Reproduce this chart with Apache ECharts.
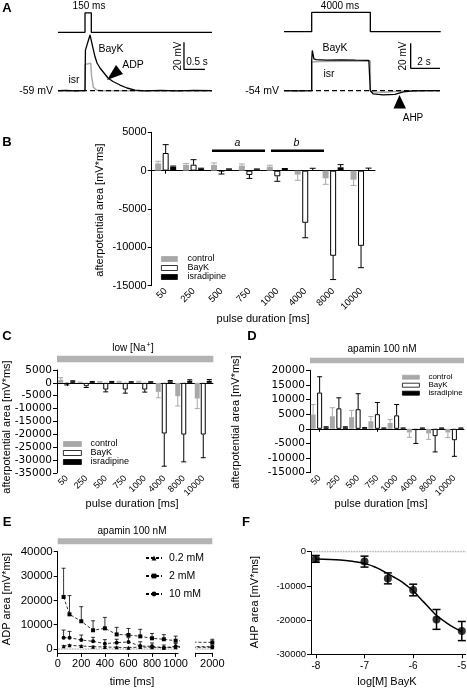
<!DOCTYPE html>
<html><head><meta charset="utf-8">
<script src="https://cdn.jsdelivr.net/npm/echarts@6/dist/echarts.min.js"></script>
<style>html,body{margin:0;padding:0;background:#fff}#c{width:467px;height:688px}</style>
</head><body><div id="c"></div>
<script>
const FONT = "'Liberation Sans', Arial, Helvetica, sans-serif";
const WIDE = "'DejaVu Sans', Verdana, sans-serif";
const GRAY = '#a8a8a8';
const BAND = '#b3b3b3';

// ---------- Panel A (traces: time in ms, membrane potential in mV) ----------
const aLeftStimT = [-643, 0, 0, 150, 150, 3023];
const aLeftStimV = [0, 0, 1, 1, 0, 0];
const aLeftBayKT = [-643, -450, -250, -80, 0, 10, 119, 190, 238, 286, 357, 452, 547, 666, 833, 1000, 1190, 1428, 1800, 2200, 2600, 3023];
const aLeftBayKV = [-59, -58.7, -59.2, -58.9, -59, -28.9, -17.7, -27.4, -33.9, -38.5, -42.2, -45.9, -49.6, -52.2, -54.8, -57, -58.5, -59.2, -58.8, -59.1, -58.7, -59];
const aLeftIsrT = [-643, 0, 0, 136, 157, 200, 275, 400, 1000, 2000, 3023];
const aLeftIsrV = [-59, -59, -39.5, -38.6, -48.6, -56.5, -58.5, -59, -59, -59, -59];
const aLeftBase = -59;

const aRightStimT = [-1889, 0, 0, 4000, 4000, 8800];
const aRightStimV = [0, 0, 1, 1, 0, 0];
const aRightBayKT = [-1889, -1000, 0, 0, 41, 150, 300, 1000, 2000, 3000, 3900, 4000, 4000, 4200, 4880, 5680, 6250, 6930, 8000, 8750];
const aRightBayKV = [-54, -54.2, -54, -30, -21.8, -28.6, -29.2, -29.5, -29.3, -29.6, -29.8, -29.8, -54, -56.6, -57.4, -56.9, -55, -54.2, -54, -54];
const aRightIsrT = [-1889, 0, 0, 500, 2000, 4000, 4000, 4300, 5000, 5600, 6500, 8750];
const aRightIsrV = [-54, -54, -31, -30.6, -30.4, -30.3, -54, -55, -55.2, -54.6, -54, -54];
const aRightBase = -54;

// ---------- Panels B, C, D (afterpotential area, mV*ms) ----------
const durations = ['50', '250', '500', '750', '1000', '4000', '8000', '10000'];

const bControl = [950, 740, 740, 650, 520, -520, -1000, -1180];
const bControlErr = [270, 170, 260, 220, 180, 740, 780, 750];
const bBayK = [2300, 780, -60, -560, -740, -6800, -11100, -9800];
const bBayKErr = [1090, 650, 380, 450, 650, 1950, 3100, 2850];
const bIsr = [500, 260, 170, 170, 220, 60, 435, 30];
const bIsrErr = [100, 60, 60, 50, 60, 250, 350, 300];

const cControl = [1200, 200, 300, 400, 400, -3500, -5200, -6100];
const cControlErr = [800, 100, 200, 200, 200, 2300, 3800, 3900];
const cBayK = [-400, -1300, -2600, -2600, -2600, -19700, -20100, -20100];
const cBayKErr = [400, 500, 900, 1400, 1000, 12700, 10600, 9000];
const cIsr = [600, 400, 400, 300, 300, 600, 800, 800];
const cIsrErr = [200, 150, 150, 150, 150, 300, 400, 500];

const dControl = [4900, 4300, 4000, 2600, 2000, -1250, -1600, -1250];
const dControlErr = [3400, 2900, 2300, 1600, 1200, 1650, 2000, 1750];
const dBayK = [12400, 7000, 6700, 5000, 4600, -450, -2500, -3900];
const dBayKErr = [5400, 3600, 5300, 4000, 3700, 4550, 5400, 5500];
const dIsr = [500, 500, 300, 200, 200, 200, 200, 200];
const dIsrErr = [200, 200, 100, 100, 100, 100, 100, 100];

// ---------- Panel E (ADP area vs time) ----------
const eTimes = [50, 100, 200, 300, 400, 500, 600, 700, 800, 900, 1000, 2000];
const e02 = [1100, 1500, 1230, 960, 820, 690, 550, 820, 690, 550, 690, 690];
const e02Err = [300, 300, 250, 200, 200, 150, 150, 200, 150, 150, 150, 150];
const e2 = [21400, 14250, 11400, 7700, 8500, 6000, 5750, 5200, 4400, 4000, 3400, 2700];
const e2Err = [11800, 7700, 6000, 3900, 4500, 2900, 2700, 2900, 2000, 1900, 1900, 1300];
const e10 = [4650, 4650, 3700, 3150, 2200, 2600, 2900, 1230, 1100, 550, 1100, 960];
const e10Err = [3150, 2600, 2050, 1650, 1650, 1400, 1750, 1750, 1400, 1100, 1200, 700];
const eTicks = [0, 200, 400, 600, 800, 1000];

// ---------- Panel F (AHP area vs log[BayK]) ----------
const fLogConc = [-8, -7, -6.52, -6, -5.52, -5];
const fAHP = [-2100, -2900, -7800, -11200, -19800, -23200];
const fErr = [1000, 1600, 1600, 1700, 2900, 2800];
const fFitX = [-8, -7.5, -7.25, -7, -6.8, -6.68, -6.53, -6.4, -6.27, -6.13, -6, -5.9, -5.79, -5.65, -5.53, -5.3, -5.15, -5];
const fFitY = [-2140, -2430, -2820, -3410, -4380, -5160, -6330, -7400, -8470, -9930, -11400, -12950, -14600, -16750, -18500, -20950, -22300, -23400];
const fTicks = [-8, -7, -6, -5];

const zip = (a, b) => a.map((v, i) => [v, b[i]]);
const fmt = v => String(v);
const axisBlack = {lineStyle: {color: '#000', width: 1}};
const labelStyle = (size, extra, family) => Object.assign({color: '#000', fontSize: size, fontFamily: family || FONT, formatter: fmt}, extra || {});

function errSeries(xi, yi, data, offset, color, capW, lw) {
  return {
    type: 'custom', xAxisIndex: xi, yAxisIndex: yi, silent: true, z: 4,
    encode: {x: 0, y: 1}, data: data,
    renderItem: function (params, api) {
      const x0 = api.value(0), v = api.value(1), e = api.value(2);
      const end = v >= 0 ? v + e : v - e;
      const p0 = api.coord([x0, v]), p1 = api.coord([x0, end]);
      const x = p0[0] + offset;
      return {type: 'group', children: [
        {type: 'line', shape: {x1: x, y1: p0[1], x2: x, y2: p1[1]}, style: {stroke: color, lineWidth: lw}},
        {type: 'line', shape: {x1: x - capW / 2, y1: p1[1], x2: x + capW / 2, y2: p1[1]}, style: {stroke: color, lineWidth: lw}}
      ]};
    }
  };
}

function barChart(xi, yi, ctrl, ctrlE, bay, bayE, isr, isrE, bw, gapPct) {
  const step = bw * (1 + gapPct / 100);
  const mk = (name, vals, color, border) => ({
    type: 'bar', name: name, xAxisIndex: xi, yAxisIndex: yi, data: vals, barWidth: bw, barGap: gapPct + '%',
    itemStyle: {color: color, borderColor: border || color, borderWidth: border ? 1 : 0}, silent: true, z: 2
  });
  const withErr = (v, e) => v.map((x, i) => [i, x, e[i]]);
  return [
    mk('control', ctrl, GRAY), mk('BayK', bay, '#fff', '#000'), mk('isradipine', isr, '#000'),
    errSeries(xi, yi, withErr(ctrl, ctrlE), -step, GRAY, bw, 1),
    errSeries(xi, yi, withErr(bay, bayE), 0, '#000', bw, 1),
    errSeries(xi, yi, withErr(isr, isrE), step, '#000', bw, 1)
  ];
}

function catAxes(gi, labelSize) {
  return [
    {type: 'category', gridIndex: gi, data: durations, position: 'bottom', axisLine: {show: true, onZero: true, lineStyle: {color: '#000', width: 1}},
     axisTick: {show: true, length: 3, alignWithLabel: true, lineStyle: {color: '#000'}}, axisLabel: {show: false}, splitLine: {show: false}},
    {type: 'category', gridIndex: gi, data: durations, position: 'bottom', axisLine: {show: false, onZero: false}, axisTick: {show: false},
     axisLabel: labelStyle(labelSize, {rotate: 45, interval: 0, margin: 4}), splitLine: {show: false}}
  ];
}
function valAxisBar(gi, min, max, size, family) {
  return {type: 'value', gridIndex: gi, min: min, max: max, interval: 5000, axisLine: Object.assign({show: true}, axisBlack),
    axisTick: {show: true, length: 4, lineStyle: {color: '#000'}}, axisLabel: labelStyle(size, {margin: 5}, family), splitLine: {show: false}};
}
const hidden = (gi, min, max) => ({type: 'value', gridIndex: gi, min: min, max: max, show: false, splitLine: {show: false}});
const G = (left, top, width, height) => ({left: left, top: top, width: width, height: height, outerBoundsMode: 'none', containLabel: false});

const grid = [
  G(58, 10.85, 154, 23.4),        // 0 A-left stimulus
  G(58, 29.95, 154, 64.8),        // 1 A-left trace
  G(284, 10.36, 156.7, 23.28),    // 2 A-right stimulus
  G(284, 40.7, 156.7, 60),        // 3 A-right trace
  G(151.7, 132.3, 223.3, 153.4),  // 4 B
  G(57, 370, 156, 102.9),         // 5 C
  G(310, 370.3, 154, 102.4),      // 6 D
  G(57.7, 551.7, 120.3, 101.2),   // 7 E left segment
  G(195.6, 551.7, 16.7, 101.2),   // 8 E right segment
  G(311, 551.7, 154.7, 102.6)     // 9 F
];

const xAxis = [
  hidden(0, -643, 3023), hidden(1, -643, 3023), hidden(2, -1889, 8800), hidden(3, -1889, 8800),
  ...catAxes(4, 9.5), ...catAxes(5, 9), ...catAxes(6, 9),
  {type: 'value', gridIndex: 7, min: 0, max: 1020, axisLine: Object.assign({show: true, onZero: false}, axisBlack),
   axisTick: {show: true, length: 4, customValues: eTicks, lineStyle: {color: '#000'}},
   axisLabel: labelStyle(11, {margin: 6, customValues: eTicks}), splitLine: {show: false}},
  {type: 'value', gridIndex: 8, min: 1858, max: 2000, axisLine: Object.assign({show: true, onZero: false}, axisBlack),
   axisTick: {show: true, length: 4, customValues: [1858, 2000], lineStyle: {color: '#000'}},
   axisLabel: labelStyle(11, {margin: 6, customValues: [2000]}), splitLine: {show: false}},
  {type: 'value', gridIndex: 9, min: -8.1, max: -4.92, axisLine: Object.assign({show: true, onZero: false}, axisBlack),
   axisTick: {show: true, length: 4, customValues: fTicks, lineStyle: {color: '#000'}},
   axisLabel: labelStyle(10, {margin: 7, customValues: fTicks}), splitLine: {show: false}}
];

const eYTicks = [0, 10000, 20000, 30000, 40000];
const yAxis = [
  hidden(0, -0.1, 1.1), hidden(1, -62, -14), hidden(2, -0.1, 1.1), hidden(3, -62, -14),
  valAxisBar(4, -15000, 5000, 11), valAxisBar(5, -35000, 5000, 10.5, WIDE), valAxisBar(6, -15000, 20000, 10.5, WIDE),
  {type: 'value', gridIndex: 7, min: -1600, max: 40000, axisLine: Object.assign({show: true, onZero: false}, axisBlack),
   axisTick: {show: true, length: 4, customValues: eYTicks, lineStyle: {color: '#000'}},
   axisLabel: labelStyle(11.5, {margin: 5, customValues: eYTicks}), splitLine: {show: false}},
  hidden(8, -1600, 40000),
  {type: 'value', gridIndex: 9, min: -30000, max: 0, interval: 10000, axisLine: Object.assign({show: true, onZero: false}, axisBlack),
   axisTick: {show: true, length: 4, lineStyle: {color: '#000'}}, axisLabel: labelStyle(9.5, {margin: 5}), splitLine: {show: false}}
];

const line = (xi, yi, data, color, width, type, z) => ({type: 'line', xAxisIndex: xi, yAxisIndex: yi, data: data, symbol: 'none',
  silent: true, z: z || 2, lineStyle: {color: color, width: width, type: type || 'solid'}, animation: false});

const scaleL = {t: 2356, v: -43.2, dt: 500, dv: 20};
const scaleR = {t: 6752, v: -36.1, dt: 2000, dv: 20};
const scaleData = s => [[s.t, s.v + s.dv], [s.t, s.v], [s.t + s.dt, s.v]];

const series = [
  line(0, 0, zip(aLeftStimT, aLeftStimV), '#000', 1.3),
  line(1, 1, zip(aLeftIsrT, aLeftIsrV), '#aaaaaa', 1.5, 'solid', 2),
  line(1, 1, zip(aLeftBayKT, aLeftBayKV), '#000', 1.3, 'solid', 3),
  line(1, 1, [[-643, aLeftBase], [3023, aLeftBase]], '#000', 1.2, [5, 3], 4),
  line(1, 1, scaleData(scaleL), '#000', 1.3),
  line(2, 2, zip(aRightStimT, aRightStimV), '#000', 1.3),
  line(3, 3, zip(aRightIsrT, aRightIsrV), '#aaaaaa', 1.5, 'solid', 2),
  line(3, 3, zip(aRightBayKT, aRightBayKV), '#000', 1.3, 'solid', 3),
  line(3, 3, [[-1889, aRightBase], [8750, aRightBase]], '#000', 1.2, [5, 3], 4),
  line(3, 3, scaleData(scaleR), '#000', 1.3),
  ...barChart(4, 4, bControl, bControlErr, bBayK, bBayKErr, bIsr, bIsrErr, 6, 25),
  ...barChart(6, 5, cControl, cControlErr, cBayK, cBayKErr, cIsr, cIsrErr, 5, 20),
  ...barChart(8, 6, dControl, dControlErr, dBayK, dBayKErr, dIsr, dIsrErr, 5, 30)
];

// Panel E
const eSets = [
  {name: '0.2 mM', v: e02, e: e02Err, sym: 'triangle', size: 4},
  {name: '2 mM', v: e2, e: e2Err, sym: 'rect', size: 4},
  {name: '10 mM', v: e10, e: e10Err, sym: 'circle', size: 4}
];
series.push(line(10, 7, [[0, 0], [1020, 0]], '#666', 0.8, 'dotted', 1));
series.push(line(11, 8, [[1858, 0], [2000, 0]], '#666', 0.8, 'dotted', 1));
eSets.forEach(s => {
  [[10, 7], [11, 8]].forEach(([xi, yi]) => {
    series.push({type: 'line', name: s.name, xAxisIndex: xi, yAxisIndex: yi, data: zip(eTimes, s.v), clip: true,
      symbol: s.sym, symbolSize: s.size, showAllSymbol: true, silent: true, z: 3, animation: false,
      itemStyle: {color: '#000'}, lineStyle: {color: '#000', width: 0.8, type: [3, 2]}});
  });
  const pts = eTimes.map((t, i) => [t, s.v[i], s.e[i]]);
  series.push(errSeries(10, 7, pts.filter(p => p[0] <= 1020), 0, '#000', 4, 0.8));
  series.push(errSeries(11, 8, pts.filter(p => p[0] >= 1858), 0, '#000', 4, 0.8));
});

// Panel F
series.push(line(12, 9, [[-8.1, 0], [-4.92, 0]], '#444', 0.8, 'dotted', 1));
series.push({type: 'line', xAxisIndex: 12, yAxisIndex: 9, data: zip(fFitX, fFitY), symbol: 'none', smooth: 0.3, silent: true,
  z: 2, lineStyle: {color: '#000', width: 1.5}, animation: false});
series.push({type: 'scatter', xAxisIndex: 12, yAxisIndex: 9, data: zip(fLogConc, fAHP), symbol: 'circle', symbolSize: 8,
  silent: true, z: 5, itemStyle: {color: '#000'}});
series.push({
  type: 'custom', xAxisIndex: 12, yAxisIndex: 9, silent: true, z: 4, encode: {x: 0, y: 1},
  data: fLogConc.map((x, i) => [x, fAHP[i], fErr[i]]),
  renderItem: function (params, api) {
    const x = api.value(0), v = api.value(1), e = api.value(2);
    const pT = api.coord([x, v + e]), pB = api.coord([x, v - e]);
    const st = {stroke: '#000', lineWidth: 1.5};
    return {type: 'group', children: [
      {type: 'line', shape: {x1: pT[0], y1: pT[1], x2: pB[0], y2: pB[1]}, style: st},
      {type: 'line', shape: {x1: pT[0] - 4, y1: pT[1], x2: pT[0] + 4, y2: pT[1]}, style: st},
      {type: 'line', shape: {x1: pB[0] - 4, y1: pB[1], x2: pB[0] + 4, y2: pB[1]}, style: st}
    ]};
  }
});

// ---------- text & annotations ----------
function txt(x, y, text, o) {
  o = o || {};
  return {type: 'text', x: x, y: y, rotation: o.rot || 0, silent: true, z: 100,
    style: {text: text, fontSize: o.size || 10, fontFamily: FONT, fontWeight: o.bold ? 'bold' : 'normal',
      fontStyle: o.italic ? 'italic' : 'normal', fill: '#000',
      textAlign: o.align || 'center', textVerticalAlign: 'middle', align: o.align || 'center', verticalAlign: 'middle'}};
}
const R = Math.PI / 2;
const seg = (x1, y1, x2, y2, w) => ({type: 'line', silent: true, z: 100, shape: {x1: x1, y1: y1, x2: x2, y2: y2}, style: {stroke: '#000', lineWidth: w}});
const band = (x, y, w, h) => ({type: 'rect', silent: true, z: 0, shape: {x: x, y: y, width: w, height: h}, style: {fill: BAND}});

const graphic = [
  txt(7, 8, 'A', {bold: true, size: 13}),
  txt(89, 6, '150 ms'),
  txt(111, 49, 'BayK', {size: 10.5}),
  txt(133, 65, 'ADP', {size: 10.5}),
  txt(74, 80, 'isr', {size: 10.5}),
  txt(53, 91, '-59 mV', {align: 'right', size: 10.5}),
  txt(178, 56, '20 mV', {rot: R}),
  txt(197, 62, '0.5 s'),
  {type: 'polygon', silent: true, z: 100, shape: {points: [[107, 80], [116, 65], [123, 74]]}, style: {fill: '#000'}},
  txt(340, 6, '4000 ms'),
  txt(335, 48, 'BayK', {size: 10.5}),
  txt(329, 74, 'isr', {size: 10.5}),
  txt(279, 91, '-54 mV', {align: 'right', size: 10.5}),
  txt(403, 56, '20 mV', {rot: R}),
  txt(424, 62, '2 s'),
  {type: 'polygon', silent: true, z: 100, shape: {points: [[399.5, 95], [393.5, 108.5], [406, 108.5]]}, style: {fill: '#000'}},
  txt(413, 118, 'AHP', {size: 10}),

  txt(7, 142, 'B', {bold: true, size: 13}),
  seg(212, 150.7, 265, 150.7, 2.5), seg(271, 150.7, 324, 150.7, 2.5),
  txt(237.5, 143, 'a', {italic: true, size: 10.5}), txt(296.5, 143, 'b', {italic: true, size: 10.5}),
  txt(100, 210, 'afterpotential area [mV*ms]', {rot: R, size: 11}),
  txt(263, 319, 'pulse duration [ms]', {size: 11}),

  txt(7, 336, 'C', {bold: true, size: 13}),
  txt(129, 348, 'low [Na', {align: 'center', size: 10}),
  txt(148.5, 345, '+', {size: 7}),
  txt(152.5, 348, ']', {size: 10}),
  band(57, 355.7, 156.3, 6.6),
  txt(7, 427, 'afterpotential area [mV*ms]', {rot: R, size: 11}),
  txt(132, 504, 'pulse duration [ms]', {size: 11}),

  txt(252, 336, 'D', {bold: true, size: 13}),
  txt(382, 349, 'apamin 100 nM', {size: 10}),
  band(310, 357.7, 154, 5.6),
  txt(236, 422, 'afterpotential area [mV*ms]', {rot: R, size: 11}),
  txt(381, 504, 'pulse duration [ms]', {size: 11}),

  txt(7, 522, 'E', {bold: true, size: 13}),
  txt(132, 531, 'apamin 100 nM', {size: 10}),
  band(57.7, 538.3, 154.6, 6),
  txt(7, 599, 'ADP area [mV*ms]', {rot: R, size: 11}),
  txt(132, 682, 'time [ms]', {size: 11}),

  txt(246, 522, 'F', {bold: true, size: 13}),
  txt(255, 602, 'AHP area [mV*ms]', {rot: R, size: 11}),
  txt(387, 682, 'log[M] BayK', {size: 11})
];

const barLegend = (left, top, w, h, size, lh, pad) => ({
  left: left, top: top, orient: 'vertical', padding: 0, selectedMode: false, icon: 'rect',
  data: ['control', 'BayK', {name: 'isradipine'}], itemWidth: w, itemHeight: h, itemGap: 0,
  itemStyle: {borderWidth: 0.8},
  textStyle: {fontSize: size, lineHeight: lh, fontFamily: FONT, color: '#000', padding: [0, 0, 0, pad]}
});

const option = {
  animation: false,
  backgroundColor: '#fff',
  grid: grid, xAxis: xAxis, yAxis: yAxis, series: series, graphic: graphic,
  legend: [
    barLegend(161, 254.5, 16, 5, 9, 9, 5),
    barLegend(63, 439.5, 18, 5, 9, 9, 4),
    barLegend(402, 373.2, 17, 4, 8, 5.6, 4),
    {left: 145, top: 552, orient: 'vertical', padding: 0, selectedMode: false,
     data: ['0.2 mM', '2 mM', '10 mM'], itemWidth: 16, itemHeight: 6, itemGap: 6,
     textStyle: {fontSize: 10.5, lineHeight: 12, fontFamily: FONT, color: '#000', padding: [0, 0, 0, 2]}}
  ]
};

const chart = echarts.init(document.getElementById('c'), null, {renderer: 'canvas', width: 467, height: 688});
chart.setOption(option);
</script>
</body></html>
